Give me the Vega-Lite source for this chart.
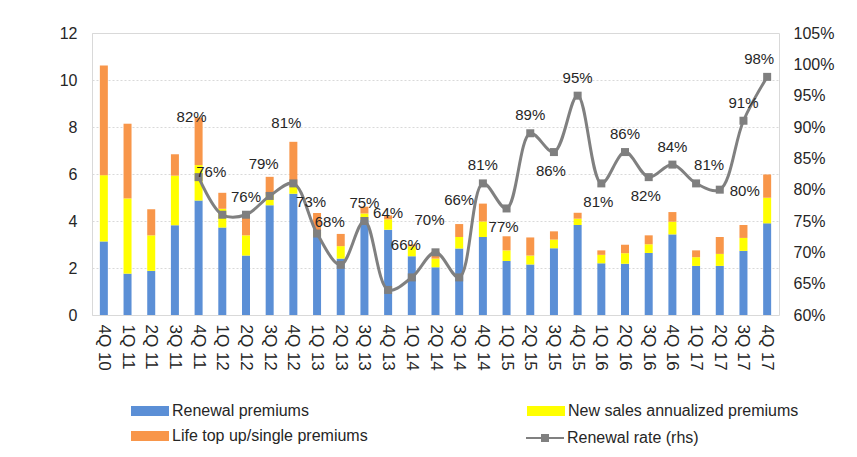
{
  "$schema": "https://vega.github.io/schema/vega-lite/v6.json",
  "width": 687,
  "height": 282,
  "autosize": {"type": "none"},
  "padding": {"left": 92, "top": 33, "right": 78, "bottom": 142},
  "background": "white",
  "config": {
    "font": "Liberation Sans",
    "view": {"stroke": "#d9d9d9", "strokeWidth": 1},
    "axis": {"labelFont": "Liberation Sans", "labelColor": "#262626", "labelFontSize": 16, "ticks": false, "domain": false, "title": null}
  },
  "data": {
    "values": [
      {"q": "4Q 10", "Renewal premiums": 3.13, "New sales annualized premiums": 2.82, "Life top up/single premiums": 4.67, "rate": null},
      {"q": "1Q 11", "Renewal premiums": 1.76, "New sales annualized premiums": 3.2, "Life top up/single premiums": 3.18, "rate": null},
      {"q": "2Q 11", "Renewal premiums": 1.88, "New sales annualized premiums": 1.51, "Life top up/single premiums": 1.11, "rate": null},
      {"q": "3Q 11", "Renewal premiums": 3.82, "New sales annualized premiums": 2.11, "Life top up/single premiums": 0.91, "rate": null},
      {"q": "4Q 11", "Renewal premiums": 4.87, "New sales annualized premiums": 1.51, "Life top up/single premiums": 2.02, "rate": 0.82},
      {"q": "1Q 12", "Renewal premiums": 3.72, "New sales annualized premiums": 0.8, "Life top up/single premiums": 0.68, "rate": 0.76},
      {"q": "2Q 12", "Renewal premiums": 2.53, "New sales annualized premiums": 0.86, "Life top up/single premiums": 0.83, "rate": 0.76},
      {"q": "3Q 12", "Renewal premiums": 4.67, "New sales annualized premiums": 0.45, "Life top up/single premiums": 0.76, "rate": 0.79},
      {"q": "4Q 12", "Renewal premiums": 5.16, "New sales annualized premiums": 0.3, "Life top up/single premiums": 1.91, "rate": 0.81},
      {"q": "1Q 13", "Renewal premiums": 3.33, "New sales annualized premiums": 0.22, "Life top up/single premiums": 0.79, "rate": 0.73},
      {"q": "2Q 13", "Renewal premiums": 2.4, "New sales annualized premiums": 0.53, "Life top up/single premiums": 0.52, "rate": 0.68},
      {"q": "3Q 13", "Renewal premiums": 4.05, "New sales annualized premiums": 0.27, "Life top up/single premiums": 0.29, "rate": 0.75},
      {"q": "4Q 13", "Renewal premiums": 3.63, "New sales annualized premiums": 0.44, "Life top up/single premiums": 0.17, "rate": 0.64},
      {"q": "1Q 14", "Renewal premiums": 2.5, "New sales annualized premiums": 0.42, "Life top up/single premiums": 0.08, "rate": 0.66},
      {"q": "2Q 14", "Renewal premiums": 2.03, "New sales annualized premiums": 0.37, "Life top up/single premiums": 0.3, "rate": 0.7},
      {"q": "3Q 14", "Renewal premiums": 2.83, "New sales annualized premiums": 0.49, "Life top up/single premiums": 0.55, "rate": 0.66},
      {"q": "4Q 14", "Renewal premiums": 3.32, "New sales annualized premiums": 0.66, "Life top up/single premiums": 0.76, "rate": 0.81},
      {"q": "1Q 15", "Renewal premiums": 2.3, "New sales annualized premiums": 0.45, "Life top up/single premiums": 0.6, "rate": 0.77},
      {"q": "2Q 15", "Renewal premiums": 2.15, "New sales annualized premiums": 0.38, "Life top up/single premiums": 0.77, "rate": 0.89},
      {"q": "3Q 15", "Renewal premiums": 2.84, "New sales annualized premiums": 0.37, "Life top up/single premiums": 0.35, "rate": 0.86},
      {"q": "4Q 15", "Renewal premiums": 3.83, "New sales annualized premiums": 0.27, "Life top up/single premiums": 0.25, "rate": 0.95},
      {"q": "1Q 16", "Renewal premiums": 2.2, "New sales annualized premiums": 0.36, "Life top up/single premiums": 0.19, "rate": 0.81},
      {"q": "2Q 16", "Renewal premiums": 2.18, "New sales annualized premiums": 0.45, "Life top up/single premiums": 0.36, "rate": 0.86},
      {"q": "3Q 16", "Renewal premiums": 2.64, "New sales annualized premiums": 0.37, "Life top up/single premiums": 0.38, "rate": 0.82},
      {"q": "4Q 16", "Renewal premiums": 3.43, "New sales annualized premiums": 0.54, "Life top up/single premiums": 0.41, "rate": 0.84},
      {"q": "1Q 17", "Renewal premiums": 2.09, "New sales annualized premiums": 0.37, "Life top up/single premiums": 0.29, "rate": 0.81},
      {"q": "2Q 17", "Renewal premiums": 2.09, "New sales annualized premiums": 0.51, "Life top up/single premiums": 0.72, "rate": 0.8},
      {"q": "3Q 17", "Renewal premiums": 2.73, "New sales annualized premiums": 0.55, "Life top up/single premiums": 0.55, "rate": 0.91},
      {"q": "4Q 17", "Renewal premiums": 3.9, "New sales annualized premiums": 1.09, "Life top up/single premiums": 0.99, "rate": 0.98}
    ]
  },
  "encoding": {
    "x": {
      "field": "q", "type": "nominal", "sort": null,
      "scale": {"paddingInner": 0, "paddingOuter": 0},
      "axis": {"labelAngle": 90, "labelAlign": "left", "labelBaseline": "middle", "labelPadding": 9, "labelFontSize": 17, "grid": false}
    }
  },
  "layer": [
    {
      "transform": [{"fold": ["Renewal premiums", "New sales annualized premiums", "Life top up/single premiums"], "as": ["series", "value"]}],
      "mark": {"type": "bar", "size": 8},
      "encoding": {
        "y": {
          "field": "value", "type": "quantitative", "stack": "zero",
          "scale": {"domain": [0, 12], "nice": false},
          "axis": {"orient": "left", "values": [0, 2, 4, 6, 8, 10, 12], "labelPadding": 15, "grid": true, "gridColor": "#d9d9d9", "gridDash": [2, 2]}
        },
        "fill": {
          "field": "series", "type": "nominal",
          "scale": {"domain": ["Renewal premiums", "New sales annualized premiums", "Life top up/single premiums"], "range": ["#5b8fd6", "#ffff00", "#f8964a"]},
          "legend": {
            "title": null, "orient": "none", "direction": "horizontal", "legendX": 48, "legendY": 368, "columns": 2, "columnPadding": 159, "rowPadding": 7,
            "symbolType": "M-1.9,-0.5H1.9V0.5H-1.9Z", "symbolSize": 400, "symbolStrokeWidth": 0,
            "labelOffset": 12, "labelFontSize": 16, "labelColor": "#262626", "labelLimit": 400, "labelFont": "Liberation Sans"
          }
        }
      }
    },
    {
      "transform": [{"filter": "datum.rate != null"}],
      "encoding": {
        "y": {
          "field": "rate", "type": "quantitative",
          "scale": {"domain": [0.6, 1.05], "nice": false, "zero": false},
          "axis": {"orient": "right", "values": [0.6, 0.65, 0.7, 0.75, 0.8, 0.85, 0.9, 0.95, 1.0, 1.05], "format": ".0%", "labelPadding": 14, "grid": false}
        }
      },
      "layer": [
        {
          "mark": {"type": "line", "interpolate": "catmull-rom", "strokeWidth": 3},
          "encoding": {
            "stroke": {
              "datum": "Renewal rate (rhs)", "type": "nominal",
              "scale": {"range": ["#808080"]},
              "legend": {
                "title": null, "orient": "none", "legendX": 443, "legendY": 395,
                "symbolType": "M-1.9,-0.1H1.9V0.1H-1.9Z M-0.4,-0.4H0.4V0.4H-0.4Z", "symbolSize": 400,
                "symbolFillColor": "#808080", "symbolStrokeWidth": 0,
                "labelOffset": 12, "labelFontSize": 16, "labelColor": "#262626", "labelLimit": 400, "labelFont": "Liberation Sans"
              }
            }
          }
        },
        {
          "mark": {"type": "point", "shape": "square", "filled": true, "size": 64, "color": "#7f7f7f", "opacity": 1}
        },
        {
          "transform": [{"filter": {"field": "q", "oneOf": ["2Q 12", "4Q 14", "2Q 15", "4Q 15", "2Q 16", "4Q 16", "3Q 13", "3Q 17"]}}],
          "mark": {"type": "text", "dy": -18, "fontSize": 15, "color": "#262626", "font": "Liberation Sans"},
          "encoding": {"text": {"field": "rate", "type": "quantitative", "format": ".0%"}}
        },
        {
          "transform": [{"filter": {"field": "q", "oneOf": ["1Q 17"]}}],
          "mark": {"type": "text", "dy": -18, "dx": 13, "fontSize": 15, "color": "#262626", "font": "Liberation Sans"},
          "encoding": {"text": {"field": "rate", "type": "quantitative", "format": ".0%"}}
        },
        {
          "transform": [{"filter": {"field": "q", "oneOf": ["4Q 17"]}}],
          "mark": {"type": "text", "dy": -18, "dx": -8, "fontSize": 15, "color": "#262626", "font": "Liberation Sans"},
          "encoding": {"text": {"field": "rate", "type": "quantitative", "format": ".0%"}}
        },
        {
          "transform": [{"filter": {"field": "q", "oneOf": ["3Q 12", "1Q 13", "1Q 14", "2Q 14"]}}],
          "mark": {"type": "text", "dy": -32, "dx": -6, "fontSize": 15, "color": "#262626", "font": "Liberation Sans"},
          "encoding": {"text": {"field": "rate", "type": "quantitative", "format": ".0%"}}
        },
        {
          "transform": [{"filter": {"field": "q", "oneOf": ["1Q 12", "2Q 13"]}}],
          "mark": {"type": "text", "dy": -43, "dx": -11, "fontSize": 15, "color": "#262626", "font": "Liberation Sans"},
          "encoding": {"text": {"field": "rate", "type": "quantitative", "format": ".0%"}}
        },
        {
          "transform": [{"filter": {"field": "q", "oneOf": ["4Q 11", "4Q 12"]}}],
          "mark": {"type": "text", "dy": -60, "dx": -7, "fontSize": 15, "color": "#262626", "font": "Liberation Sans"},
          "encoding": {"text": {"field": "rate", "type": "quantitative", "format": ".0%"}}
        },
        {
          "transform": [{"filter": {"field": "q", "oneOf": ["4Q 13", "3Q 14"]}}],
          "mark": {"type": "text", "dy": -77, "fontSize": 15, "color": "#262626", "font": "Liberation Sans"},
          "encoding": {"text": {"field": "rate", "type": "quantitative", "format": ".0%"}}
        },
        {
          "transform": [{"filter": {"field": "q", "oneOf": ["1Q 15", "3Q 15", "1Q 16", "3Q 16"]}}],
          "mark": {"type": "text", "dy": 19, "dx": -3, "fontSize": 15, "color": "#262626", "font": "Liberation Sans"},
          "encoding": {"text": {"field": "rate", "type": "quantitative", "format": ".0%"}}
        },
        {
          "transform": [{"filter": {"field": "q", "oneOf": ["2Q 17"]}}],
          "mark": {"type": "text", "dx": 25, "dy": 1, "fontSize": 15, "color": "#262626", "font": "Liberation Sans"},
          "encoding": {"text": {"field": "rate", "type": "quantitative", "format": ".0%"}}
        }
      ]
    }
  ],
  "resolve": {"scale": {"y": "independent"}}
}
